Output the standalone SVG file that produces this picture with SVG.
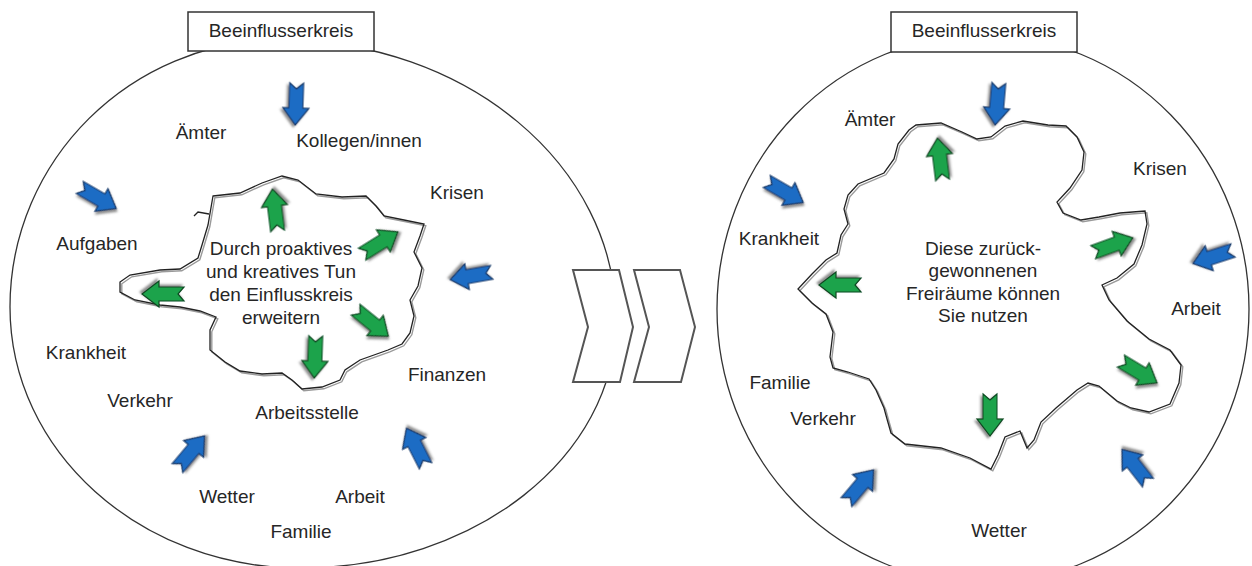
<svg xmlns="http://www.w3.org/2000/svg" xmlns:xlink="http://www.w3.org/1999/xlink" width="1252" height="566" viewBox="0 0 1252 566">
<style>
  text { font-family: "Liberation Sans", Arial, sans-serif; font-size: 19px; fill: #262626; }
  .lbl { text-anchor: middle; }
  .circ { fill: #fff; stroke: #333; stroke-width: 1.3; }
  .box { fill: #fff; stroke: #333; stroke-width: 1.5; }
  .blobA { fill: #fff; stroke: #9a9a9a; stroke-width: 1.4; }
  .blobB { fill: none; stroke: #222; stroke-width: 1.3; }
  .blue { fill: #1f6cc4; stroke: #173a6b; stroke-width: 1.2; filter: url(#sh); }
  .green { fill: #1fa34b; stroke: #0d4a22; stroke-width: 1.2; filter: url(#sh); }
  .chev { fill: #fff; stroke: #555; stroke-width: 2; stroke-linejoin: miter; }
</style>
<defs>
  <filter id="sh" x="-40%" y="-40%" width="180%" height="180%">
    <feDropShadow dx="2" dy="2" stdDeviation="1" flood-color="#444" flood-opacity="0.6"/>
  </filter>
  <path id="arr" d="M-21,-7 L4,-7 L4,-13 L21,0 L4,13 L4,7 L-21,7 L-15,0 Z"/>
</defs>
<rect width="1252" height="566" fill="#fff"/>

<!-- LEFT PANEL -->
<g id="left-circle">
  <path class="circ" d="M280,40 C131,40 10,160 10,307 C10,451 140,568 300,568 C475,568 616,457 616,320 C616,165 466,40 280,40 Z"/>
</g>
<g id="left-title">
  <rect class="box" x="188" y="12" width="186" height="39"/>
  <text class="lbl" x="281" y="37">Beeinflusserkreis</text>
</g>
<g id="left-blob">
  <path class="blobA" transform="translate(1.8,1.8)" d="M213,196 L240,193 L262,183 L282,176 L298,180 L316,194 L342,197 L366,196 L376,206 L384,216 L404,220 L424,224 L420,236 L414,252 L422,268 L418,286 L410,300 L414,316 L410,333 L402,344 L388,350 L360,360 L345,370 L340,380 L322,387 L302,389 L292,380 L282,373 L262,374 L240,371 L225,362 L210,350 L210,330 L216,317 L200,311 L180,307 L160,305 L135,300 L120,292 L120,282 L130,275 L160,270 L180,269 L198,258 L202,245 L208,225 Z"/>
  <path class="blobB" d="M213,196 L240,193 L262,183 L282,176 L298,180 L316,194 L342,197 L366,196 L376,206 L384,216 L404,220 L424,224 L420,236 L414,252 L422,268 L418,286 L410,300 L414,316 L410,333 L402,344 L388,350 L360,360 L345,370 L340,380 L322,387 L302,389 L292,380 L282,373 L262,374 L240,371 L225,362 L210,350 L210,330 L216,317 L200,311 L180,307 L160,305 L135,300 L120,292 L120,282 L130,275 L160,270 L180,269 L198,258 L202,245 L208,225 Z"/>
  <path class="blobB" d="M209,214 L198,212 L194,216"/>
</g>
<g id="left-center-text">
  <text class="lbl" x="281" y="255">Durch proaktives</text>
  <text class="lbl" x="281" y="278">und kreatives Tun</text>
  <text class="lbl" x="281" y="301">den Einflusskreis</text>
  <text class="lbl" x="281" y="324">erweitern</text>
</g>
<g id="left-labels">
  <text class="lbl" x="201" y="139">Ämter</text>
  <text class="lbl" x="359" y="147">Kollegen/innen</text>
  <text class="lbl" x="457" y="199">Krisen</text>
  <text class="lbl" x="97" y="250">Aufgaben</text>
  <text class="lbl" x="86" y="359">Krankheit</text>
  <text class="lbl" x="447" y="381">Finanzen</text>
  <text class="lbl" x="140" y="407">Verkehr</text>
  <text class="lbl" x="307" y="419">Arbeitsstelle</text>
  <text class="lbl" x="227" y="503">Wetter</text>
  <text class="lbl" x="360" y="503">Arbeit</text>
  <text class="lbl" x="301" y="538">Familie</text>
</g>
<g id="left-arrows">
  <use xlink:href="#arr" class="blue" transform="translate(296,104) rotate(92)"/>
  <use xlink:href="#arr" class="blue" transform="translate(98,198) rotate(30)"/>
  <use xlink:href="#arr" class="blue" transform="translate(471,276) rotate(170)"/>
  <use xlink:href="#arr" class="blue" transform="translate(191,452) rotate(-50)"/>
  <use xlink:href="#arr" class="blue" transform="translate(416,447) rotate(-117)"/>
  <use xlink:href="#arr" class="green" transform="translate(275,210) rotate(-97)"/>
  <use xlink:href="#arr" class="green" transform="translate(380,243) rotate(-32)"/>
  <use xlink:href="#arr" class="green" transform="translate(163,294) rotate(180)"/>
  <use xlink:href="#arr" class="green" transform="translate(372,323) rotate(39)"/>
  <use xlink:href="#arr" class="green" transform="translate(315,357) rotate(92)"/>
</g>

<!-- CHEVRONS -->
<g id="chevrons">
  <polygon class="chev" points="573,270 619,270 633,327 620,382 573,382 588,327"/>
  <polygon class="chev" points="634,270 680,270 695,327 681,382 634,382 649,327"/>
</g>

<!-- RIGHT PANEL -->
<g id="right-circle">
  <ellipse class="circ" cx="983" cy="309" rx="266" ry="274"/>
</g>
<g id="right-title">
  <rect class="box" x="891" y="12" width="186" height="40"/>
  <text class="lbl" x="984" y="37">Beeinflusserkreis</text>
</g>
<g id="right-blob">
  <path class="blobA" transform="translate(1.8,1.8)" d="M916,125 L941,123 L962,132 L977,139 L991,137 L1005,126 L1023,121 L1048,125 L1066,126 L1077,137 L1084,152 L1082,170 L1070,188 L1057,202 L1063,213 L1081,220 L1099,217 L1120,213 L1145,211 L1147,224 L1142,245 L1134,264 L1117,278 L1102,285 L1109,300 L1127,321 L1149,339 L1170,350 L1181,365 L1179,383 L1170,404 L1149,412 L1131,408 L1117,401 L1099,386 L1088,383 L1077,390 L1056,408 L1041,422 L1034,440 L1027,448 L1020,431 L1005,437 L998,455 L991,469 L970,458 L941,448 L905,444 L891,433 L887,419 L884,408 L876,390 L869,379 L848,372 L833,368 L830,357 L833,332 L826,314 L812,303 L798,289 L812,274 L826,260 L837,253 L841,235 L848,224 L844,209 L848,195 L858,184 L884,173 L894,159 L898,144 L909,130 Z"/>
  <path class="blobB" d="M916,125 L941,123 L962,132 L977,139 L991,137 L1005,126 L1023,121 L1048,125 L1066,126 L1077,137 L1084,152 L1082,170 L1070,188 L1057,202 L1063,213 L1081,220 L1099,217 L1120,213 L1145,211 L1147,224 L1142,245 L1134,264 L1117,278 L1102,285 L1109,300 L1127,321 L1149,339 L1170,350 L1181,365 L1179,383 L1170,404 L1149,412 L1131,408 L1117,401 L1099,386 L1088,383 L1077,390 L1056,408 L1041,422 L1034,440 L1027,448 L1020,431 L1005,437 L998,455 L991,469 L970,458 L941,448 L905,444 L891,433 L887,419 L884,408 L876,390 L869,379 L848,372 L833,368 L830,357 L833,332 L826,314 L812,303 L798,289 L812,274 L826,260 L837,253 L841,235 L848,224 L844,209 L848,195 L858,184 L884,173 L894,159 L898,144 L909,130 Z"/>
</g>
<g id="right-center-text">
  <text class="lbl" x="983" y="255">Diese zurück-</text>
  <text class="lbl" x="983" y="277">gewonnenen</text>
  <text class="lbl" x="983" y="300">Freiräume können</text>
  <text class="lbl" x="983" y="322">Sie nutzen</text>
</g>
<g id="right-labels">
  <text class="lbl" x="870" y="126">Ämter</text>
  <text class="lbl" x="1160" y="175">Krisen</text>
  <text class="lbl" x="779" y="245">Krankheit</text>
  <text class="lbl" x="1196" y="315">Arbeit</text>
  <text class="lbl" x="780" y="389">Familie</text>
  <text class="lbl" x="823" y="425">Verkehr</text>
  <text class="lbl" x="999" y="537">Wetter</text>
</g>
<g id="right-arrows">
  <use xlink:href="#arr" class="blue" transform="translate(997,104) rotate(95)"/>
  <use xlink:href="#arr" class="blue" transform="translate(785,192) rotate(30)"/>
  <use xlink:href="#arr" class="blue" transform="translate(1213,257) rotate(162)"/>
  <use xlink:href="#arr" class="blue" transform="translate(860,486) rotate(-50)"/>
  <use xlink:href="#arr" class="blue" transform="translate(1135,466) rotate(-128)"/>
  <use xlink:href="#arr" class="green" transform="translate(940,159) rotate(-97)"/>
  <use xlink:href="#arr" class="green" transform="translate(1113,245) rotate(-20)"/>
  <use xlink:href="#arr" class="green" transform="translate(840,285) rotate(180)"/>
  <use xlink:href="#arr" class="green" transform="translate(1139,372) rotate(31)"/>
  <use xlink:href="#arr" class="green" transform="translate(990,415) rotate(90)"/>
</g>
</svg>
